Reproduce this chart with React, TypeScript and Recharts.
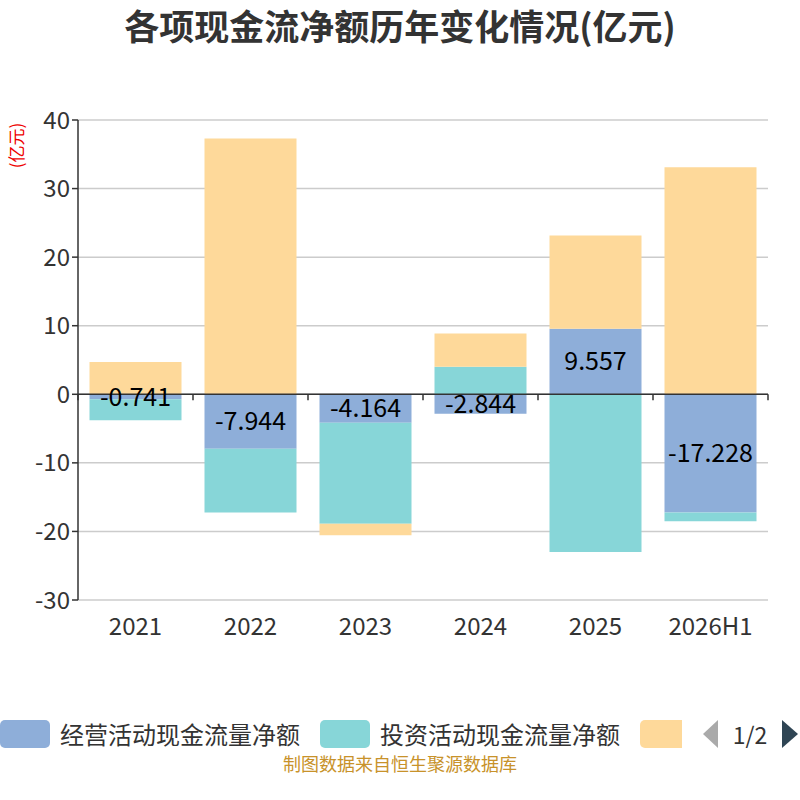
import { BarChart, Bar, XAxis, YAxis, CartesianGrid, ReferenceLine, LabelList } from 'recharts'

const categories = ['2021', '2022', '2023', '2024', '2025', '2026H1']
const operating = [-0.741, -7.944, -4.164, -2.844, 9.557, -17.228]
const investing = [-3.06, -9.3, -14.7, 4.0, -23.0, -1.27]
const financing = [4.7, 37.3, -1.7, 4.87, 13.6, 33.1]
const yTicks = [-30, -20, -10, 0, 10, 20, 30, 40]

const seriesNames = ['经营活动现金流量净额', '投资活动现金流量净额', '筹资活动现金流量净额']
const seriesColors = ['#8eaed9', '#87d6d8', '#fed99a']

const data = categories.map((c, i) => ({
  name: c,
  op: operating[i],
  inv: investing[i],
  fin: financing[i],
}))

const font = '"Noto Sans CJK SC", "Noto Sans", sans-serif'

function ZeroTicks(props: any) {
  const vb = props.viewBox
  if (!vb) return null
  const step = vb.width / categories.length
  return (
    <g>
      {Array.from({ length: categories.length + 1 }, (_, i) => (
        <line key={i} x1={vb.x + i * step} x2={vb.x + i * step} y1={vb.y} y2={vb.y + 6} stroke="#333" strokeWidth={1.5} />
      ))}
    </g>
  )
}

export default function App() {
  return (
    <div style={{ position: 'absolute', left: 0, top: 0, width: 800, height: 800, background: '#fff', fontFamily: font, overflow: 'hidden' }}>
      <div style={{ position: 'absolute', top: 0, width: 800, textAlign: 'center', fontSize: 35, lineHeight: '50px', fontWeight: 'bold', color: '#333' }}>
        各项现金流净额历年变化情况(亿元)
      </div>
      <div style={{ position: 'absolute', left: -15, top: 133, width: 60, transform: 'rotate(-90deg)', color: '#e00', fontSize: 17, textAlign: 'center' }}>
        (亿元)
      </div>
      <BarChart
        width={800}
        height={800}
        data={data}
        stackOffset="sign"
        barCategoryGap="10%"
        margin={{ top: 120, right: 32, bottom: 170, left: 18 }}
        style={{ position: 'absolute', left: 0, top: 0 }}
      >
        <CartesianGrid vertical={false} stroke="#ccc" strokeWidth={1.5} />
        <XAxis
          dataKey="name"
          axisLine={false}
          tickLine={false}
          height={30}
          tickMargin={12}
          tick={{ fontSize: 24, fill: '#333', fontFamily: font }}
        />
        <YAxis
          width={60}
          domain={[-30, 40]}
          ticks={yTicks}
          interval={0}
          axisLine={{ stroke: '#333', strokeWidth: 1.5 }}
          tickLine={{ stroke: '#333', strokeWidth: 1.5 }}
          tickSize={6}
          tick={{ fontSize: 24, fill: '#333', fontFamily: font }}
        />
        <Bar dataKey="op" stackId="a" fill={seriesColors[0]} isAnimationActive={false}>
          <LabelList dataKey="op" position="center" fill="#000" fontSize={25} fontFamily={font} />
        </Bar>
        <Bar dataKey="inv" stackId="a" fill={seriesColors[1]} isAnimationActive={false} />
        <Bar dataKey="fin" stackId="a" fill={seriesColors[2]} isAnimationActive={false} />
        <ReferenceLine y={0} stroke="#333" strokeWidth={1.5} label={<ZeroTicks />} />
      </BarChart>
      <div style={{ position: 'absolute', top: 720, left: 0, width: 800, height: 30, whiteSpace: 'nowrap', fontSize: 24, color: '#333' }}>
        {seriesNames.map((n, i) => (
          <div key={n} style={{ position: 'absolute', left: i * 320, top: 0, display: 'flex', alignItems: 'center' }}>
            <span style={{ display: 'inline-block', width: 50, height: 28, borderRadius: 5, background: seriesColors[i] }} />
            {i < 2 && <span style={{ marginLeft: 10, lineHeight: '28px' }}>{n}</span>}
          </div>
        ))}
        <div style={{ position: 'absolute', left: 682, top: 0, width: 118, height: 30, background: '#fff' }} />
        <svg style={{ position: 'absolute', left: 700, top: 0 }} width={100} height={30}>
          <polygon points="18,0 18,28 3,14" fill="#aaa" />
          <polygon points="82,0 82,28 98,14" fill="#2f4554" />
        </svg>
        <div style={{ position: 'absolute', left: 728, top: 0, width: 44, textAlign: 'center', lineHeight: '28px', fontSize: 23 }}>1/2</div>
      </div>
      <div style={{ position: 'absolute', top: 750, width: 800, textAlign: 'center', fontSize: 18, color: '#c8922a' }}>
        制图数据来自恒生聚源数据库
      </div>
    </div>
  )
}
